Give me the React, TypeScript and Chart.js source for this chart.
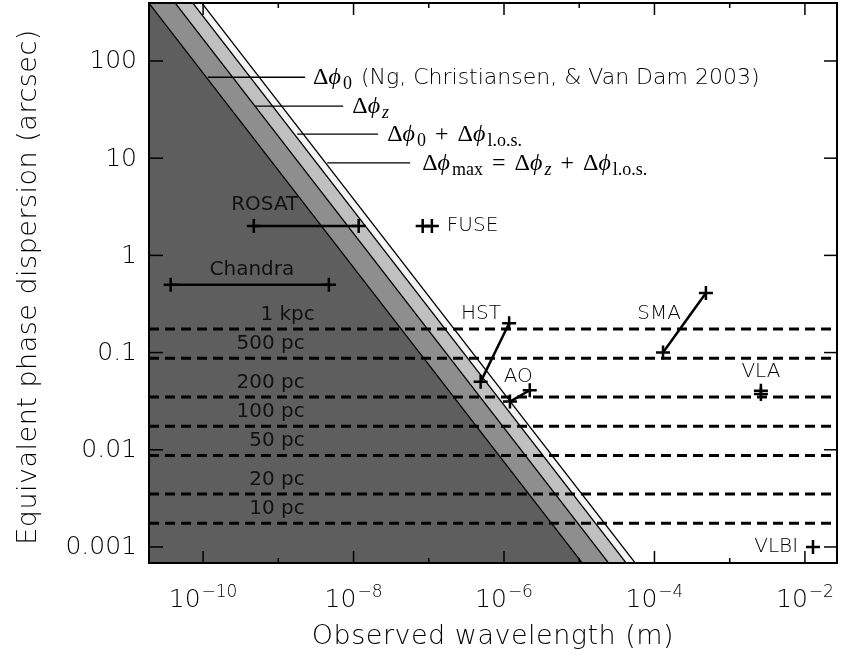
import React, { useEffect, useRef } from 'react';
import { Chart, registerables } from 'chart.js';

Chart.register(...registerables);

// Axis ranges (log-log)
const X_MIN = 1.91e-11;
const X_MAX = 0.0267;
const Y_MIN = 6.84e-4;
const Y_MAX = 395;

// Ticks
const xTickExps = [-10, -9, -8, -7, -6, -5, -4, -3, -2];
const xLabelExps = [-10, -8, -6, -4, -2];
const yTicks = [100, 10, 1, 0.1, 0.01, 0.001];
const yTickLabels = ['100', '10', '1', '0.1', '0.01', '0.001'];

// Boundary lines (two read points each, x shared)
const lineX = [1e-11, 1e-3];
const phi0Y = [750, 7.5e-6];
const phizY = [1680, 1.68e-5];
const phi0losY = [2880, 2.88e-5];
const phimaxY = [3800, 3.8e-5];

// Distance (dashed) lines
const distLabels = ['1 kpc', '500 pc', '200 pc', '100 pc', '50 pc', '20 pc', '10 pc'];
const distValues = [0.175, 0.0875, 0.035, 0.0175, 0.00875, 0.0035, 0.00175];
const distLabelX = [3.05e-9, 2.25e-9, 2.25e-9, 2.25e-9, 2.25e-9, 2.25e-9, 2.25e-9];

// Instruments
const instNames = ['ROSAT', 'Chandra', 'FUSE', 'HST', 'AO', 'SMA', 'VLA', 'VLBI'];
const instX = [
  [4.72e-10, 1.17e-8],
  [3.71e-11, 4.7e-9],
  [8.3e-8, 1.1e-7],
  [4.89e-7, 1.17e-6],
  [1.2e-6, 2.2e-6],
  [1.3e-4, 4.83e-4],
  [2.6e-3, 2.6e-3],
  [1.28e-2],
];
const instY = [
  [2, 2],
  [0.5, 0.5],
  [2, 2],
  [0.05, 0.2],
  [0.0313, 0.041],
  [0.1, 0.41],
  [0.0375, 0.0405],
  [0.001],
];
const instLabelX = [6.6e-10, 4.45e-10, 1.74e-7, 4.93e-7, 1.55e-6, 1.15e-4, 2.6e-3, 8.1e-3];
const instLabelY = [3.3, 0.71, 2, 0.249, 0.0561, 0.249, 0.063, 0.001];
const instLabelAlign = ['center', 'center', 'left', 'center', 'center', 'center', 'center', 'right'];
const instLabelOnDark = [true, true, false, false, false, false, false, false];

// Annotation pointers
const annY = [68, 34.4, 17.7, 8.93];
const annX0 = [1.16e-10, 4.9e-10, 1.78e-9, 4.46e-9];
const annX1 = [2.27e-9, 7.3e-9, 2.12e-8, 5.66e-8];
const annTextX = [2.9e-9, 9.6e-9, 2.8e-8, 8.17e-8];

const SERIF = '"Liberation Serif", "DejaVu Serif", serif';
const SANS = '"DejaVu Sans", sans-serif';
const LIGHT = '300';

type Run = { t: string; font: string; dy?: number; pre?: number; post?: number };
const D: Run = { t: 'Δ', font: `24px ${SERIF}` };
const PHI: Run = { t: 'ϕ', font: `italic 24px ${SERIF}`, post: 2 };
const sub = (s: string, italic = false): Run => ({ t: s, font: `${italic ? 'italic ' : ''}18px ${SERIF}`, dy: 5 });
const op = (s: string): Run => ({ t: s, font: `24px ${SERIF}`, pre: 9, post: 9 });

const annRuns: Run[][] = [
  [D, PHI, sub('0'), { t: ' (Ng, Christiansen, & Van Dam 2003)', font: `${LIGHT} 22px ${SANS}`, pre: 2 }],
  [D, PHI, sub('z', true)],
  [D, PHI, sub('0'), op('+'), D, PHI, sub('l.o.s.')],
  [D, PHI, sub('max'), op('='), D, PHI, sub('z', true), op('+'), D, PHI, sub('l.o.s.')],
];

const drawPlugin = {
  id: 'customDraw',
  afterDraw(chart: any) {
    const { ctx, chartArea: a } = chart;
    const xs = chart.scales.x;
    const ys = chart.scales.y;
    const line = (x1: number, y1: number, x2: number, y2: number) => {
      ctx.beginPath();
      ctx.moveTo(x1, y1);
      ctx.lineTo(x2, y2);
      ctx.stroke();
    };
    ctx.save();

    // Annotation pointer lines + text
    ctx.strokeStyle = '#000';
    ctx.lineWidth = 1.3;
    ctx.fillStyle = '#000';
    ctx.textAlign = 'left';
    ctx.textBaseline = 'alphabetic';
    annY.forEach((v, i) => {
      const py = ys.getPixelForValue(v);
      line(xs.getPixelForValue(annX0[i]), py, xs.getPixelForValue(annX1[i]), py);
      let px = xs.getPixelForValue(annTextX[i]);
      annRuns[i].forEach((r) => {
        ctx.font = r.font;
        px += r.pre || 0;
        ctx.fillText(r.t, px, py + 7 + (r.dy || 0));
        px += ctx.measureText(r.t).width + (r.post || 0);
      });
    });

    // Distance labels (on dark background)
    ctx.font = `20px ${SANS}`;
    ctx.fillStyle = '#111';
    ctx.textAlign = 'right';
    ctx.textBaseline = 'alphabetic';
    distLabels.forEach((s, i) => {
      const py = ys.getPixelForValue(distValues[i]);
      ctx.fillText(s, xs.getPixelForValue(distLabelX[i]), py - 9);
    });

    // Instrument labels
    ctx.textBaseline = 'middle';
    instNames.forEach((s, i) => {
      ctx.font = instLabelOnDark[i] ? `20px ${SANS}` : `${LIGHT} 20px ${SANS}`;
      ctx.fillStyle = instLabelOnDark[i] ? '#111' : '#000';
      ctx.textAlign = instLabelAlign[i] as CanvasTextAlign;
      ctx.fillText(s, xs.getPixelForValue(instLabelX[i]), ys.getPixelForValue(instLabelY[i]));
    });

    // Frame
    ctx.strokeStyle = '#000';
    ctx.lineWidth = 2;
    ctx.strokeRect(a.left, a.top, a.right - a.left, a.bottom - a.top);

    // Ticks
    ctx.lineWidth = 1.5;
    xTickExps.forEach((e) => {
      const px = xs.getPixelForValue(Math.pow(10, e));
      const len = xLabelExps.includes(e) ? 12 : 5;
      line(px, a.bottom, px, a.bottom - len);
      line(px, a.top, px, a.top + len);
    });
    yTicks.forEach((v) => {
      const py = ys.getPixelForValue(v);
      line(a.left, py, a.left + 14, py);
      line(a.right, py, a.right - 13, py);
    });

    // Y tick labels
    ctx.fillStyle = '#000';
    ctx.font = `${LIGHT} 25px ${SANS}`;
    ctx.textAlign = 'right';
    ctx.textBaseline = 'middle';
    yTicks.forEach((v, i) => {
      ctx.fillText(yTickLabels[i], a.left - 12, ys.getPixelForValue(v) + 1);
    });

    // X tick labels with superscripts
    ctx.textAlign = 'left';
    ctx.textBaseline = 'alphabetic';
    xLabelExps.forEach((e) => {
      const px = xs.getPixelForValue(Math.pow(10, e));
      const base = '10';
      const sup = '−' + String(-e);
      ctx.font = `${LIGHT} 25px ${SANS}`;
      const wb = ctx.measureText(base).width;
      ctx.font = `${LIGHT} 17px ${SANS}`;
      const ws = ctx.measureText(sup).width;
      const start = px - (wb + ws + 1) / 2;
      ctx.font = `${LIGHT} 25px ${SANS}`;
      ctx.fillText(base, start, a.bottom + 44);
      ctx.font = `${LIGHT} 17px ${SANS}`;
      ctx.fillText(sup, start + wb + 1, a.bottom + 34);
    });

    // Axis titles
    ctx.fillStyle = '#000';
    ctx.font = `${LIGHT} 27px ${SANS}`;
    (ctx as any).letterSpacing = '0.5px';
    ctx.textAlign = 'center';
    ctx.textBaseline = 'alphabetic';
    ctx.fillText('Observed wavelength (m)', (a.left + a.right) / 2, a.bottom + 81);
    ctx.save();
    ctx.translate(36, (a.top + a.bottom) / 2 + 4);
    ctx.rotate(-Math.PI / 2);
    ctx.fillText('Equivalent phase dispersion (arcsec)', 0, 0);
    ctx.restore();
    (ctx as any).letterSpacing = '0px';

    ctx.restore();
  },
};

export default function App() {
  const canvasRef = useRef<HTMLCanvasElement | null>(null);

  useEffect(() => {
    if (!canvasRef.current) return;
    const pts = (xsArr: number[], ysArr: number[]) => xsArr.map((x, i) => ({ x, y: ysArr[i] }));
    const boundary = (ys: number[], fill: any, bg: string) => ({
      data: pts(lineX, ys),
      borderColor: '#000',
      borderWidth: 1.3,
      pointRadius: 0,
      fill,
      backgroundColor: bg,
    });
    const datasets: any[] = [
      boundary(phi0Y, 'start', '#5e5e5e'),
      boundary(phizY, '-1', '#8e8e8e'),
      boundary(phi0losY, '-1', '#c0c0c0'),
      boundary(phimaxY, '-1', '#f4f4f4'),
      ...distValues.map((v) => ({
        data: [{ x: X_MIN, y: v }, { x: X_MAX, y: v }],
        borderColor: '#000',
        borderWidth: 3,
        borderDash: [10, 6],
        pointRadius: 0,
        fill: false,
      })),
      ...instNames.map((_, i) => ({
        data: pts(instX[i], instY[i]),
        borderColor: '#000',
        borderWidth: 2.5,
        pointStyle: 'cross',
        pointRadius: 7,
        pointBorderWidth: 2.5,
        pointBorderColor: '#000',
        fill: false,
      })),
    ];
    const chart = new Chart(canvasRef.current, {
      type: 'line',
      data: { datasets },
      options: {
        animation: false,
        responsive: false,
        maintainAspectRatio: false,
        layout: { autoPadding: false, padding: { left: 149, right: 4, top: 3, bottom: 92 } },
        scales: {
          x: { type: 'logarithmic', min: X_MIN, max: X_MAX, display: false },
          y: { type: 'logarithmic', min: Y_MIN, max: Y_MAX, display: false },
        },
        elements: { line: { tension: 0 } },
        plugins: {
          legend: { display: false },
          tooltip: { enabled: false },
          filler: { drawTime: 'beforeDatasetsDraw' },
        } as any,
      },
      plugins: [drawPlugin],
    } as any);
    return () => chart.destroy();
  }, []);

  return (
    <div style={{ position: 'absolute', left: 0, top: 0, width: 841, height: 655, background: '#fff' }}>
      <canvas ref={canvasRef} width={841} height={655} style={{ display: 'block' }} />
    </div>
  );
}
